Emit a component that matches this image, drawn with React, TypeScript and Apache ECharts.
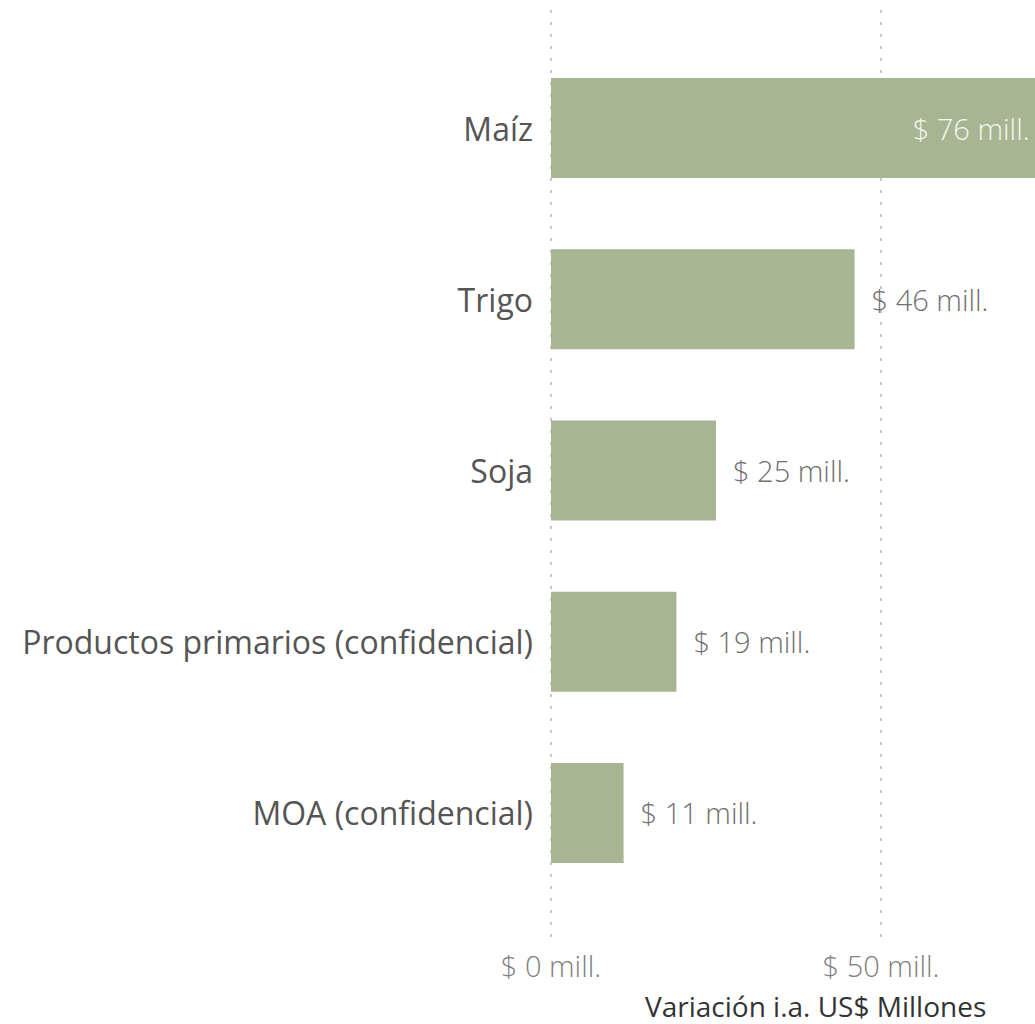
import React, { useEffect, useRef } from "react";
import * as echarts from "echarts";

const categories = [
  "Maíz",
  "Trigo",
  "Soja",
  "Productos primarios (confidencial)",
  "MOA (confidencial)",
];
const values = [76, 46, 25, 19, 11];
const xTicks = [0, 50];
const axisTitle = "Variación i.a. US$ Millones";

const BAR_COLOR = "#a7b593";
const FONT = "'Open Sans', 'Noto Sans', sans-serif";

export default function App() {
  const ref = useRef<HTMLDivElement>(null);
  useEffect(() => {
    if (!ref.current) return;
    const chart = echarts.init(ref.current, null, { renderer: "svg" });
    const xMax = 80;
    const pxPerUnit = 6.6;
    const gridLeft = 551;
    const gridWidth = xMax * pxPerUnit;
    chart.setOption({
      animation: false,
      backgroundColor: "#ffffff",
      title: {
        text: axisTitle,
        left: 645,
        top: 992,
        padding: 0,
        textStyle: {
          fontFamily: FONT,
          fontSize: 28,
          lineHeight: 28,
          fontWeight: "normal",
          color: "#333",
        },
      },
      grid: [
        { left: gridLeft, width: gridWidth, top: 10, height: 930, containLabel: false },
        { left: gridLeft, width: gridWidth, top: 42.5, height: 856, containLabel: false },
      ],
      xAxis: [
        {
          gridIndex: 0,
          type: "value",
          min: 0,
          max: xMax,
          interval: 50,
          axisLine: { show: false },
          axisTick: { show: false },
          axisLabel: {
            margin: 11,
            fontFamily: FONT,
            fontSize: 29,
            color: "#808080",
            fontWeight: 300,
            formatter: (v: number) => (xTicks.includes(v) ? `$ ${v} mill.` : ""),
          },
          splitLine: {
            show: true,
            lineStyle: { color: "#c8c8c8", width: 2, type: [3, 9] },
          },
        },
        {
          gridIndex: 1,
          type: "value",
          min: 0,
          max: xMax,
          show: false,
        },
      ],
      yAxis: [
        {
          gridIndex: 0,
          type: "category",
          data: [],
          show: false,
        },
        {
          gridIndex: 1,
          type: "category",
          inverse: true,
          data: categories,
          axisLine: { show: false },
          axisTick: { show: false },
          axisLabel: {
            margin: 18,
            fontFamily: FONT,
            fontSize: 32,
            color: "#555",
          },
        },
      ],
      series: [
        {
          type: "bar",
          xAxisIndex: 1,
          yAxisIndex: 1,
          barWidth: 100,
          itemStyle: { color: BAR_COLOR },
          label: {
            show: true,
            position: "right",
            distance: 17,
            fontFamily: FONT,
            fontSize: 29,
            fontWeight: 300,
            color: "#707070",
            formatter: (p: any) => `$ ${p.value} mill.`,
          },
          data: values.map((v, i) =>
            i === 0
              ? {
                  value: v,
                  label: {
                    position: "insideRight",
                    offset: [-6, 0],
                    color: "#f4f6f0",
                  },
                }
              : v
          ),
        },
      ],
    });
    return () => chart.dispose();
  }, []);
  return (
    <div
      style={{ position: "absolute", left: 0, top: 0, width: 1035, height: 1024, overflow: "hidden" }}
    >
      <div ref={ref} style={{ width: 1100, height: 1024 }} />
    </div>
  );
}
